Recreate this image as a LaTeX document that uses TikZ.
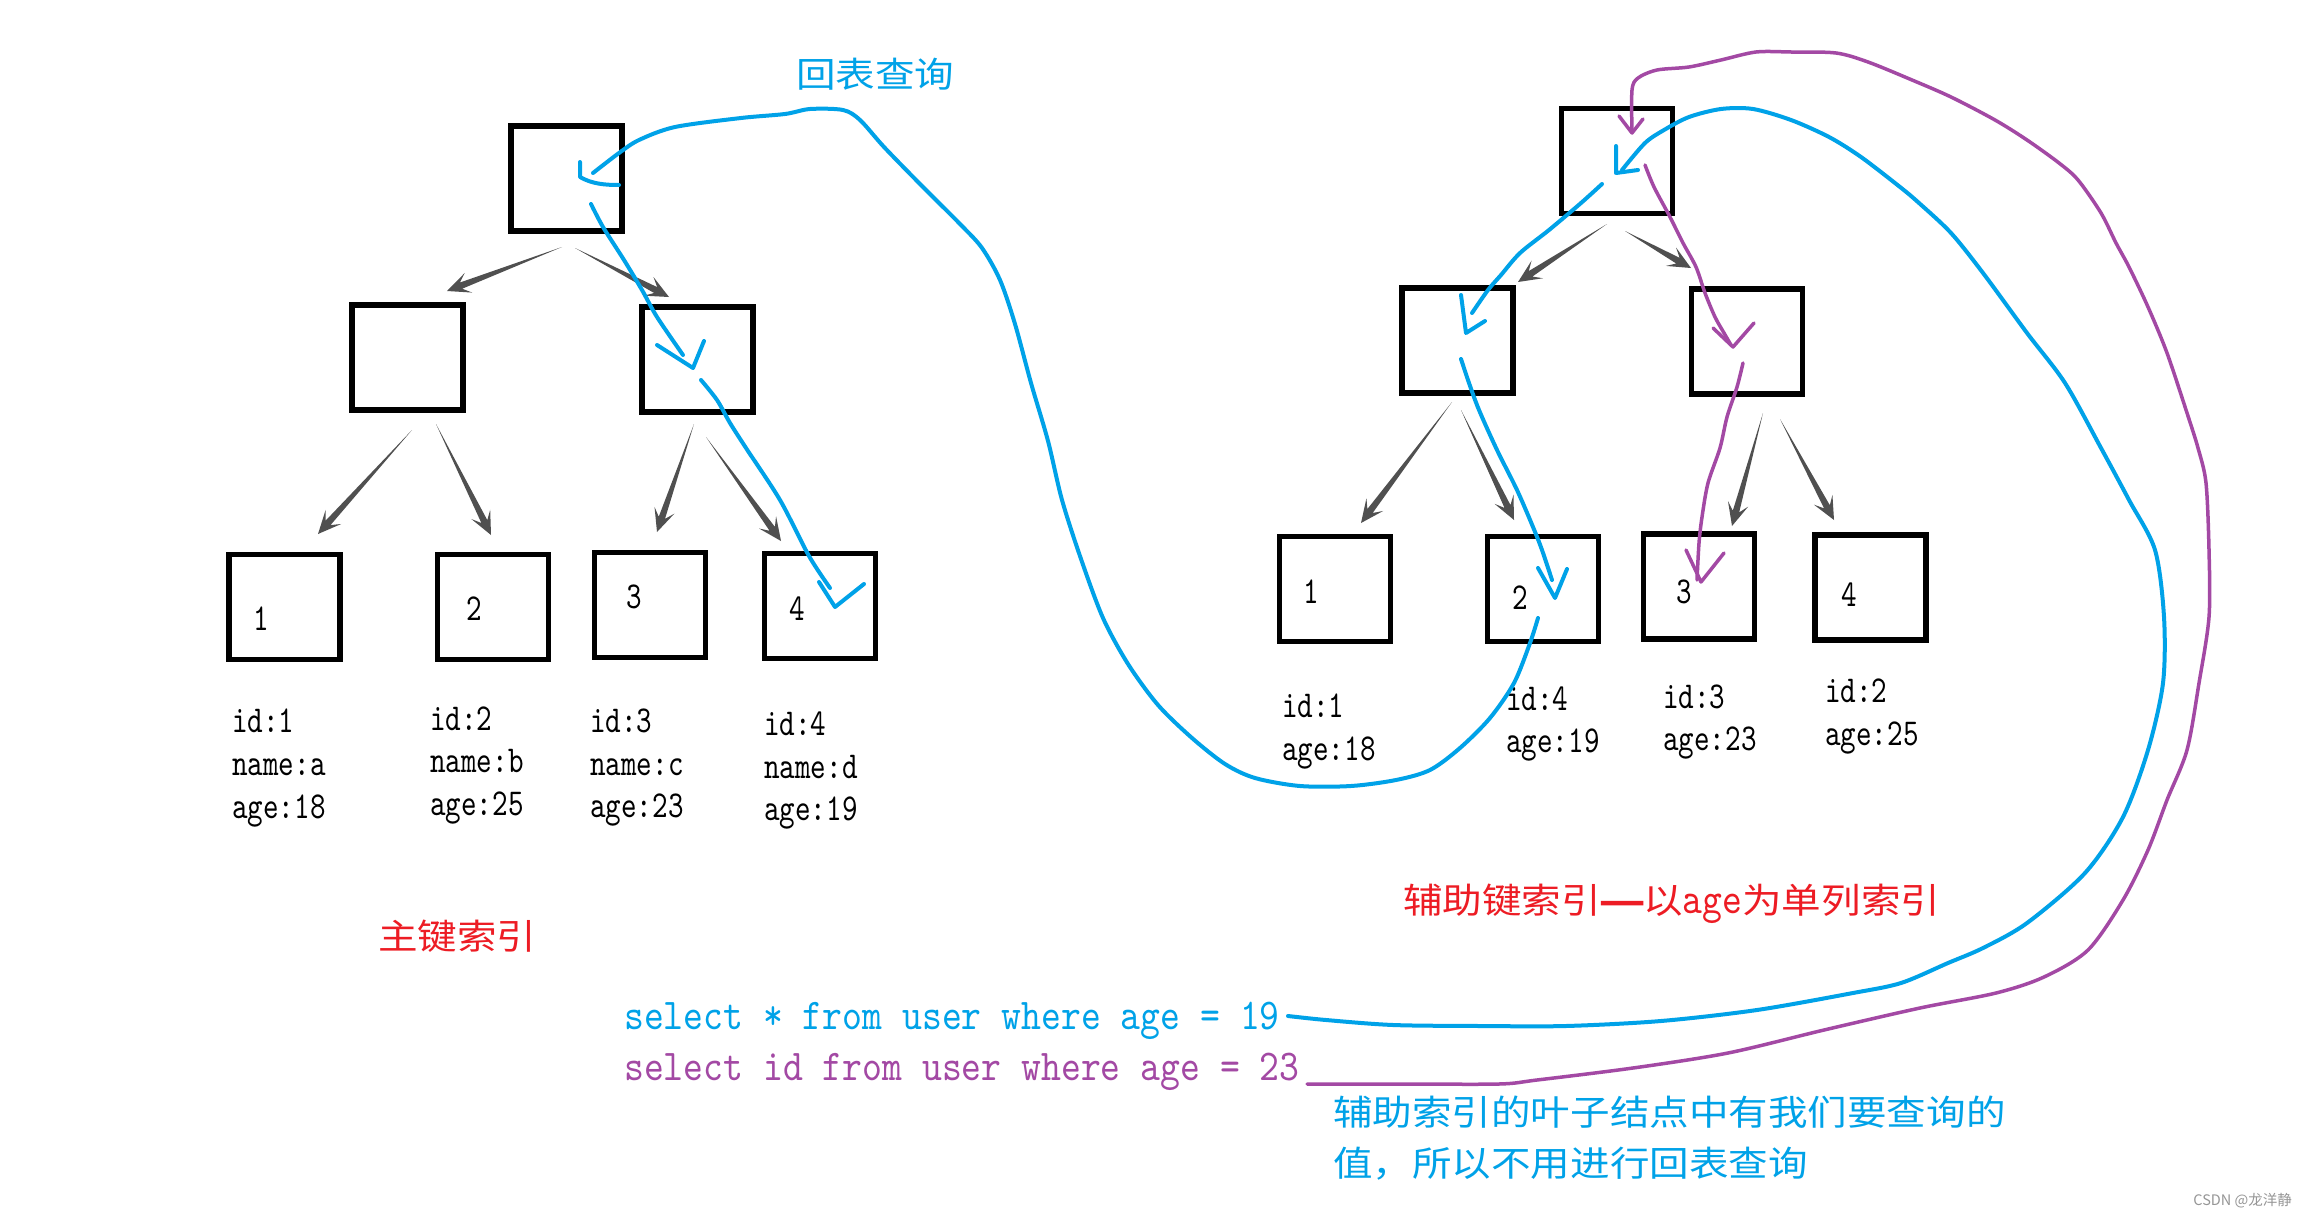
\documentclass[tikz,border=0pt]{standalone}
\usepackage{fontspec}
\usetikzlibrary{calc}
\newfontfamily\cjk{Noto Sans CJK SC}[FakeStretch=1.13]
\newfontfamily\cjkdash{Noto Sans CJK SC}[FakeStretch=0.72,FakeBold=7]
\newfontfamily\wm{Noto Sans CJK SC}
\newfontfamily\lbl{lmmono10-regular.otf}[FakeStretch=0.78]
\newfontfamily\sqlf{lmmono10-regular.otf}[FakeStretch=0.86]
\definecolor{pblue}{RGB}{0,162,232}
\definecolor{ppurple}{RGB}{163,73,164}
\definecolor{pred}{RGB}{237,28,36}
\definecolor{agray}{RGB}{80,80,80}
\definecolor{wmgray}{RGB}{150,150,150}
\newcommand\grayarr[2]{%
  \path ($(#2)!23pt!(#1)$) coordinate (gam) ($(#2)!15pt!(#1)$) coordinate (gan);
  \fill[agray] (#1) -- ($(gan)!3.3pt!90:(#2)$) -- ($(gam)!10.5pt!90:(#2)$) -- (#2)
    -- ($(gam)!10.5pt!-90:(#2)$) -- ($(gan)!3.3pt!-90:(#2)$) -- cycle;}
\begin{document}
\begin{tikzpicture}[x=1pt,y=-1pt,
  box/.style={draw=black, line width=5.5pt, minimum width=111pt, minimum height=105pt, inner sep=0pt},
  lbltxt/.style={inner sep=0pt, anchor=base west, font=\lbl\fontsize{38}{40}\selectfont},
  digit/.style={inner sep=0pt, anchor=center, font=\lbl\fontsize{38}{40}\selectfont},
  cjktxt/.style={inner sep=0pt, anchor=base west, font=\cjk\fontsize{35}{40}\selectfont},
  sqltxt/.style={inner sep=0pt, anchor=base west, font=\sqlf\fontsize{44}{48}\selectfont},
  bluepen/.style={draw=pblue, line width=4pt, line cap=round, line join=round},
  purplepen/.style={draw=ppurple, line width=3.5pt, line cap=round, line join=round}]
\useasboundingbox (0,0) rectangle (2307,1215);
\fill[white] (0,0) rectangle (2307,1215);

% ---------- left tree (primary key index) ----------
\node[box] (L0) at (566.5,178.5) {};
\node[box] (L1) at (407.5,357.5) {};
\node[box] (L2) at (697.5,359.5) {};
\node[box] (LA) at (284.5,607) {};
\node[box] (LB) at (493,607) {};
\node[box] (LC) at (650,605) {};
\node[box] (LD) at (820,606) {};
\node[digit] (dLA) at (261,619) {1};
\node[digit] (dLB) at (474,609) {2};
\node[digit] (dLC) at (634,597) {3};
\node[digit] (dLD) at (797,609) {4};

\coordinate (a1s) at (562,247); \coordinate (a1e) at (447,291);
\coordinate (a2s) at (575,248); \coordinate (a2e) at (669,297);
\coordinate (a3s) at (412,430); \coordinate (a3e) at (318,534);
\coordinate (a4s) at (436,424); \coordinate (a4e) at (491,535);
\coordinate (a5s) at (694,424); \coordinate (a5e) at (657,532);
\coordinate (a6s) at (706,437); \coordinate (a6e) at (781,541);
\grayarr{a1s}{a1e}\grayarr{a2s}{a2e}\grayarr{a3s}{a3e}
\grayarr{a4s}{a4e}\grayarr{a5s}{a5e}\grayarr{a6s}{a6e}

\node[lbltxt] (t1a) at (232,732) {id:1};
\node[lbltxt] (t1b) at (232,775) {name:a};
\node[lbltxt] (t1c) at (232,818) {age:18};
\node[lbltxt] (t2a) at (430,730) {id:2};
\node[lbltxt] (t2b) at (430,772) {name:b};
\node[lbltxt] (t2c) at (430,815) {age:25};
\node[lbltxt] (t3a) at (590,732) {id:3};
\node[lbltxt] (t3b) at (590,775) {name:c};
\node[lbltxt] (t3c) at (590,817) {age:23};
\node[lbltxt] (t4a) at (764,735) {id:4};
\node[lbltxt] (t4b) at (764,778) {name:d};
\node[lbltxt] (t4c) at (764,820) {age:19};

\node[cjktxt, text=pred] (zj) at (378,949) {主键索引};

% ---------- right tree (secondary index) ----------
\node[box] (R0) at (1617,161) {};
\node[box] (R1) at (1457.5,340.5) {};
\node[box] (R2) at (1747,341.5) {};
\node[box] (RA) at (1335,589) {};
\node[box] (RB) at (1543,589) {};
\node[box] (RC) at (1699,586.5) {};
\node[box] (RD) at (1870.5,587.5) {};
\node[digit] (dRA) at (1311,592) {1};
\node[digit] (dRB) at (1520,598) {2};
\node[digit] (dRC) at (1684,592) {3};
\node[digit] (dRD) at (1849,595) {4};

\coordinate (b1s) at (1607,224); \coordinate (b1e) at (1518,282);
\coordinate (b2s) at (1625,231); \coordinate (b2e) at (1691,268);
\coordinate (b3s) at (1452,402); \coordinate (b3e) at (1361,523);
\coordinate (b4s) at (1461,410); \coordinate (b4e) at (1514,520);
\coordinate (b5s) at (1763,413); \coordinate (b5e) at (1732,526);
\coordinate (b6s) at (1780,419); \coordinate (b6e) at (1834,520);
\grayarr{b1s}{b1e}\grayarr{b2s}{b2e}\grayarr{b3s}{b3e}
\grayarr{b4s}{b4e}\grayarr{b5s}{b5e}\grayarr{b6s}{b6e}

\node[lbltxt] (u1a) at (1282,717) {id:1};
\node[lbltxt] (u1b) at (1282,760) {age:18};
\node[lbltxt] (u2a) at (1506,710) {id:4};
\node[lbltxt] (u2b) at (1506,752) {age:19};
\node[lbltxt] (u3a) at (1663,708) {id:3};
\node[lbltxt] (u3b) at (1663,750) {age:23};
\node[lbltxt] (u4a) at (1825,702) {id:2};
\node[lbltxt] (u4b) at (1825,745) {age:25};

\node[cjktxt, text=pred] (fz) at (1403,913) {辅助键索引{\cjkdash ——}以{\fontsize{44}{48}\sqlf age}为单列索引};

% ---------- texts ----------
\node[cjktxt, text=pblue] (hb) at (796,87) {回表查询};
\node[sqltxt, text=pblue] (q1) at (624,1029) {select * from user where age = 19};
\node[sqltxt, text=ppurple] (q2) at (624,1080) {select id from user where age = 23};
\node[cjktxt, text=pblue] (n1) at (1333,1125) {辅助索引的叶子结点中有我们要查询的};
\node[cjktxt, text=pblue] (n2) at (1333,1176) {值，所以不用进行回表查询};
\node[inner sep=0pt, anchor=base east, font=\wm\fontsize{14.5}{16}\selectfont, text=wmgray] (wm) at (2292,1205) {CSDN @龙洋静};

% ---------- hand-drawn blue paths ----------
\draw[bluepen] plot[smooth,tension=0.5] coordinates {(1538,618) (1530,643) (1514,683) (1490,718) (1460,748) (1430,770) (1396,780) (1351,786) (1300,786) (1255,778) (1225,764) (1192,738) (1158,705) (1128,664) (1103,618) (1081,559) (1062,500) (1048,441) (1031,383) (1015,324) (1000,280) (982,248) (961,225) (920,184) (884,147) (860,120) (843,110) (810,109) (785,114) (741,118) (675,127) (639,140) (619,153) (593,173)};
\draw[bluepen] (580,162) -- (580,177) .. controls (592,184) and (605,185) .. (619,185);

\draw[bluepen] plot[smooth,tension=0.5] coordinates {(591,204) (603,227) (624,260) (642,290) (657,317) (683,355)};
\draw[bluepen] (657,345) -- (693,368) -- (704,341);
\draw[bluepen] plot[smooth,tension=0.5] coordinates {(701,380) (717,400) (730,423) (746,448) (780,500) (809,556) (830,588)};
\draw[bluepen] (819,582) -- (835,607) -- (864,584);

\draw[bluepen] plot[smooth,tension=0.5] coordinates {(1288,1016) (1326,1020) (1393,1025) (1480,1026) (1566,1026) (1661,1021) (1757,1010) (1853,993) (1901,983) (1948,963) (1983,948) (2027,923) (2085,873) (2123,817) (2148,750) (2163,683) (2164,617) (2155,550) (2129,500) (2101,448) (2065,383) (2027,333) (1983,273) (1951,233) (1919,203) (1900,187) (1861,157) (1829,137) (1791,120) (1753,109) (1721,109) (1689,117) (1664,130) (1645,143) (1622,170)};
\draw[bluepen] (1616,146) -- (1616,173) -- (1638,170);

\draw[bluepen] plot[smooth,tension=0.5] coordinates {(1602,184) (1581,203) (1549,230) (1520,253) (1501,275) (1488,290) (1472,313)};
\draw[bluepen] (1461,295) -- (1466,333) -- (1485,321);
\draw[bluepen] plot[smooth,tension=0.5] coordinates {(1461,359) (1469,383) (1479,410) (1497,450) (1517,490) (1533,527) (1542,550) (1552,580)};
\draw[bluepen] (1538,568) -- (1555,598) -- (1567,569);

% ---------- hand-drawn purple paths ----------
\draw[purplepen] plot[smooth,tension=0.5] coordinates {(1307,1084) (1400,1084) (1499,1084) (1537,1080) (1633,1068) (1728,1053) (1824,1030) (1920,1008) (1996,993) (2044,977) (2088,950) (2123,900) (2148,850) (2167,800) (2187,750) (2199,683) (2209,617) (2209,550) (2206,483) (2198,448) (2187,413) (2167,353) (2148,307) (2129,267) (2116,243) (2101,213) (2078,180) (2059,163) (2027,140) (1995,120) (1951,97) (1912,80) (1868,62) (1836,53) (1791,52) (1756,52) (1721,60) (1689,67) (1657,70) (1638,78) (1632,90) (1632,132)};
\draw[purplepen] (1619,116) -- (1632,133) -- (1643,119);

\draw[purplepen] plot[smooth,tension=0.5] coordinates {(1645,165) (1654,187) (1670,217) (1683,243) (1696,267) (1705,293) (1715,317) (1724,333) (1731,345)};
\draw[purplepen] (1713,328) -- (1733,347) -- (1754,323);
\draw[purplepen] plot[smooth,tension=0.5] coordinates {(1743,363) (1737,387) (1727,417) (1720,448) (1708,483) (1702,517) (1699,543) (1697,580)};
\draw[purplepen] (1686,550) -- (1701,582) -- (1724,553);
\end{tikzpicture}
\end{document}
